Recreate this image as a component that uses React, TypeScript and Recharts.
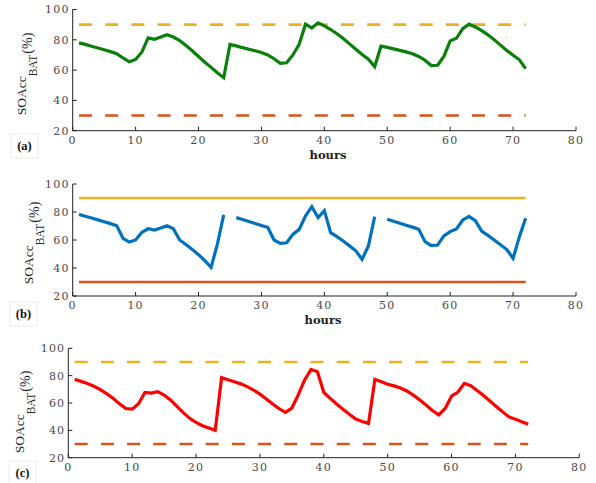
import React from 'react';
import { LineChart, Line, XAxis, YAxis } from 'recharts';

const hours = [
  1, 2, 3, 4, 5, 6, 7, 8, 9, 10, 11, 12, 13, 14, 15, 16, 17, 18, 19, 20, 21, 22, 23, 24,
  25, 26, 27, 28, 29, 30, 31, 32, 33, 34, 35, 36, 37, 38, 39, 40, 41, 42, 43, 44, 45, 46, 47, 48,
  49, 50, 51, 52, 53, 54, 55, 56, 57, 58, 59, 60, 61, 62, 63, 64, 65, 66, 67, 68, 69, 70, 71, 72,
];

// (a) green
const soaccA = [
  78, 77, 75.8, 74.6, 73.4, 72.2, 70.8, 68, 65.5, 67, 72, 81.3, 80.3, 81.8, 83.3, 81.8, 79.5, 76.2, 72.8, 69, 65.2, 61.8, 58.2, 55,
  77, 76, 74.8, 73.8, 72.8, 71.6, 70, 67.5, 64.5, 64.8, 70, 77, 90.3, 87.8, 91.2, 89.2, 86.8, 84, 80.8, 77.3, 73.8, 70.3, 67.2, 62.3,
  75.8, 75, 74, 73, 72, 70.8, 69, 66.5, 63, 63.2, 69, 79.3, 81, 87.3, 90.3, 88.5, 86, 83.3, 80, 76.5, 73, 69.8, 66.8, 61,
];

// (b) blue (gaps at 25 and 49)
const soaccB = [
  78.3, 77, 75.7, 74.4, 73, 71.7, 70.2, 61.2, 58.5, 60, 65.5, 68, 67.1, 68.5, 70.2, 68, 60, 56.8, 53.3, 49.5, 45.3, 40.5, 57, 77.9,
  null, 76, 74.6, 73.2, 71.8, 70.4, 69, 60, 57.6, 58, 64, 67.6, 77.1, 83.8, 76, 81, 65.2, 62.4, 59.3, 55.8, 52.3, 46.2, 55.7, 76.7,
  null, 74.8, 73.4, 72, 70.6, 69.2, 67.6, 58.8, 56, 56.4, 63, 66, 67.9, 74.3, 76.9, 73.8, 66.4, 63.3, 60, 56.6, 53.2, 46.9, 62.4, 75.5,
];

// (c) red
const soaccC = [
  77.3, 75.8, 74.2, 72.2, 69.8, 66.8, 63.5, 59.5, 56, 55.5, 59.5, 67.8, 67.3, 68.3, 65.8, 62.2, 57.5, 53, 48.8, 45.8, 43.4, 41.8, 40, 78.5,
  77, 75.5, 74, 72, 69.5, 66.5, 63, 59.3, 55.8, 53.2, 56.3, 65.9, 76.8, 84.6, 82.9, 67.8, 63.4, 59.3, 55.4, 51.7, 48.3, 46.5, 45.1, 77.3,
  75.5, 73.7, 72.5, 71, 68.8, 65.8, 62.3, 58.5, 54.5, 51.3, 56, 65, 68, 74.4, 72.7, 69.2, 65.5, 61.5, 57.5, 53.5, 49.8, 48.2, 46.3, 44.5,
];

const upperLimit = 90;
const lowerLimit = 30;
const xTicks = [0, 10, 20, 30, 40, 50, 60, 70, 80];
const yTicks = [20, 40, 60, 80, 100];

const data = hours.map((h, i) => ({
  h,
  a: soaccA[i],
  b: soaccB[i],
  c: soaccC[i],
  hi: upperLimit,
  lo: lowerLimit,
}));

const SERIF = "'Liberation Serif', 'Times New Roman', Times, serif";

const tickStyle = {
  fontFamily: "'DejaVu Serif', serif",
  fontSize: 11,
  fill: '#4a4a4a',
  letterSpacing: 1.2,
};

const AXIS = '#222';

type PanelProps = {
  top: number;
  height: number;
  margin: { top: number; right: number; bottom: number; left: number };
  k: string;
  color: string;
  dashed: boolean;
};

function Panel({ top, height, margin, k, color, dashed }: PanelProps) {
  const dash = dashed ? '13 13.2' : undefined;
  return (
    <div style={{ position: 'absolute', left: 0, top, width: 596, height }}>
      <LineChart width={596} height={height} data={data} margin={margin}>
        <XAxis
          xAxisId="b"
          dataKey="h"
          type="number"
          domain={[0, 80]}
          ticks={xTicks}
          orientation="bottom"
          height={25}
          tickSize={-4}
          tickMargin={9}
          stroke={AXIS}
          tick={tickStyle}
          interval={0}
        />
        <XAxis
          xAxisId="t"
          dataKey="h"
          type="number"
          domain={[0, 80]}
          ticks={xTicks}
          orientation="top"
          height={0}
          tickSize={-4}
          tick={false}
          stroke={AXIS}
          interval={0}
        />
        <YAxis
          yAxisId="l"
          type="number"
          domain={[20, 100]}
          ticks={yTicks}
          width={60}
          tickSize={-4}
          tickMargin={7}
          stroke={AXIS}
          tick={tickStyle}
          interval={0}
        />
        <YAxis
          yAxisId="r"
          orientation="right"
          type="number"
          domain={[20, 100]}
          ticks={yTicks}
          width={0}
          tickSize={-4}
          tick={false}
          stroke={AXIS}
          interval={0}
        />
        <Line
          xAxisId="b"
          yAxisId="l"
          dataKey="hi"
          stroke="#EDB120"
          strokeWidth={2.6}
          strokeDasharray={dash}
          dot={false}
          isAnimationActive={false}
        />
        <Line
          xAxisId="b"
          yAxisId="l"
          dataKey="lo"
          stroke="#D95319"
          strokeWidth={2.6}
          strokeDasharray={dash}
          dot={false}
          isAnimationActive={false}
        />
        <Line
          xAxisId="b"
          yAxisId="l"
          dataKey={k}
          stroke={color}
          strokeWidth={3.2}
          dot={false}
          connectNulls={false}
          isAnimationActive={false}
        />
      </LineChart>
    </div>
  );
}

function YLabel({ x, y }: { x: number; y: number }) {
  return (
    <text
      transform={`translate(${x},${y}) rotate(-90)`}
      textAnchor="middle"
      fontFamily={SERIF}
      fill="#2a2a2a"
    >
      <tspan fontSize={13.5}>SOAcc</tspan>
      <tspan fontSize={11.5} dy={11}>BAT</tspan>
      <tspan fontSize={14} dy={-5} dx={1}>(%)</tspan>
    </text>
  );
}

function PanelTag({ x, y, label }: { x: number; y: number; label: string }) {
  return (
    <g>
      <rect x={x} y={y} width={27} height={24} fill="none" stroke="#ececec" strokeWidth={1} />
      <text
        x={x + 13.5}
        y={y + 16}
        textAnchor="middle"
        fontFamily={SERIF}
        fontWeight="bold"
        fontSize={12.5}
        fill="#111"
      >
        {label}
      </text>
    </g>
  );
}

export default function App() {
  return (
    <div
      style={{
        position: 'absolute',
        left: 0,
        top: 0,
        width: 596,
        height: 483,
        background: '#fff',
        overflow: 'hidden',
      }}
    >
      <Panel
        top={0}
        height={160}
        margin={{ top: 9.5, right: 20, bottom: 4.3, left: 12.7 }}
        k="a"
        color="#0a800a"
        dashed={true}
      />
      <Panel
        top={165}
        height={160}
        margin={{ top: 19, right: 20, bottom: 4, left: 12.7 }}
        k="b"
        color="#0072BD"
        dashed={false}
      />
      <Panel
        top={330}
        height={153}
        margin={{ top: 18.3, right: 16.7, bottom: 0.3, left: 8.3 }}
        k="c"
        color="#FF0000"
        dashed={true}
      />
      <svg
        width={596}
        height={483}
        style={{ position: 'absolute', left: 0, top: 0, pointerEvents: 'none' }}
      >
        <YLabel x={26} y={74} />
        <YLabel x={33} y={243} />
        <YLabel x={24} y={412} />
        <PanelTag x={11} y={134} label="(a)" />
        <PanelTag x={10} y={302} label="(b)" />
        <PanelTag x={9} y={461} label="(c)" />
        <text
          x={328}
          y={158.5}
          textAnchor="middle"
          fontFamily="'DejaVu Serif', serif"
          fontWeight="bold"
          fontSize={11.5}
          fill="#222"
        >
          hours
        </text>
        <text
          x={323}
          y={323.5}
          textAnchor="middle"
          fontFamily="'DejaVu Serif', serif"
          fontWeight="bold"
          fontSize={11.5}
          fill="#222"
        >
          hours
        </text>
      </svg>
    </div>
  );
}
